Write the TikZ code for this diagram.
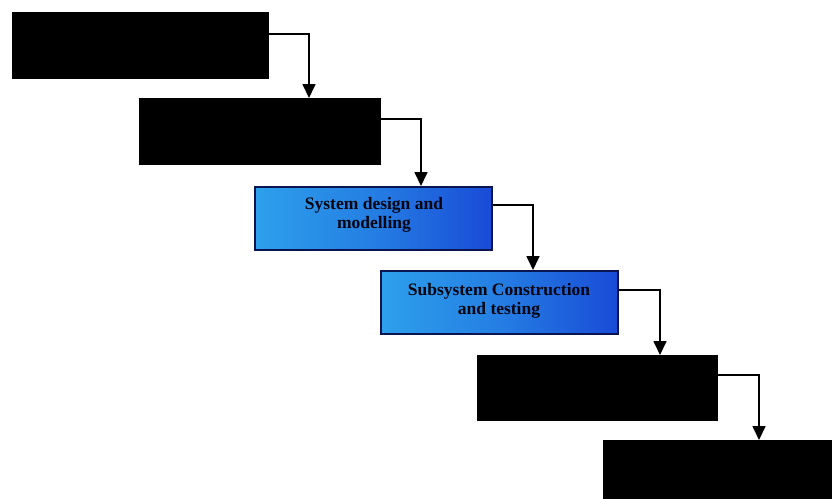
\documentclass[tikz,border=0pt]{standalone}
\usepackage{fontspec}
\setmainfont{Liberation Serif}
\usetikzlibrary{arrows.meta}
\definecolor{bluelight}{RGB}{45,160,235}
\definecolor{bluedark}{RGB}{25,75,215}
\definecolor{navy}{RGB}{10,20,80}
\tikzset{
  blackbox/.style={fill=black, draw=black, rectangle, anchor=north west, inner sep=0pt},
  bluebox/.style={draw=navy, line width=2.2pt, rectangle, anchor=north west, inner sep=0pt,
    left color=bluelight, right color=bluedark, middle color=bluelight!60!bluedark},
  boxtext/.style={font=\fontsize{17.5}{19}\selectfont\bfseries, text=black!80!navy, align=center},
  flow/.style={draw=black, line width=1.7pt, -{Triangle[length=14pt,width=13pt]}}
}
\begin{document}
\begin{tikzpicture}[x=1pt,y=-1pt]
\useasboundingbox (0,0) rectangle (832,498);
\fill[white] (0,0) rectangle (832,498);
\node[blackbox, minimum width=256pt, minimum height=66pt] (b1) at (12,12) {};
\node[blackbox, minimum width=241pt, minimum height=66pt] (b2) at (139,98) {};
\node[bluebox, minimum width=237pt, minimum height=63pt] (b3) at (254,186) {};
\node[bluebox, minimum width=237pt, minimum height=63pt] (b4) at (380,270) {};
\node[blackbox, minimum width=240pt, minimum height=65pt] (b5) at (477,355) {};
\node[blackbox, minimum width=230pt, minimum height=60pt] (b6) at (603,440) {};
\node[boxtext] (t3) at (374,215) {System design and\\modelling};
\node[boxtext] (t4) at (499,301) {Subsystem Construction\\and testing};
\coordinate (c1) at (309,34);
\coordinate (c2) at (421,119);
\coordinate (c3) at (533,205);
\coordinate (c4) at (660,290);
\coordinate (c5) at (759,375);
\draw[flow] (b1.east |- c1) -- (c1) -- (c1 |- b2.north);
\draw[flow] (b2.east |- c2) -- (c2) -- (c2 |- b3.north);
\draw[flow] (b3.east |- c3) -- (c3) -- (c3 |- b4.north);
\draw[flow] (b4.east |- c4) -- (c4) -- (c4 |- b5.north);
\draw[flow] (b5.east |- c5) -- (c5) -- (c5 |- b6.north);
\end{tikzpicture}
\end{document}
